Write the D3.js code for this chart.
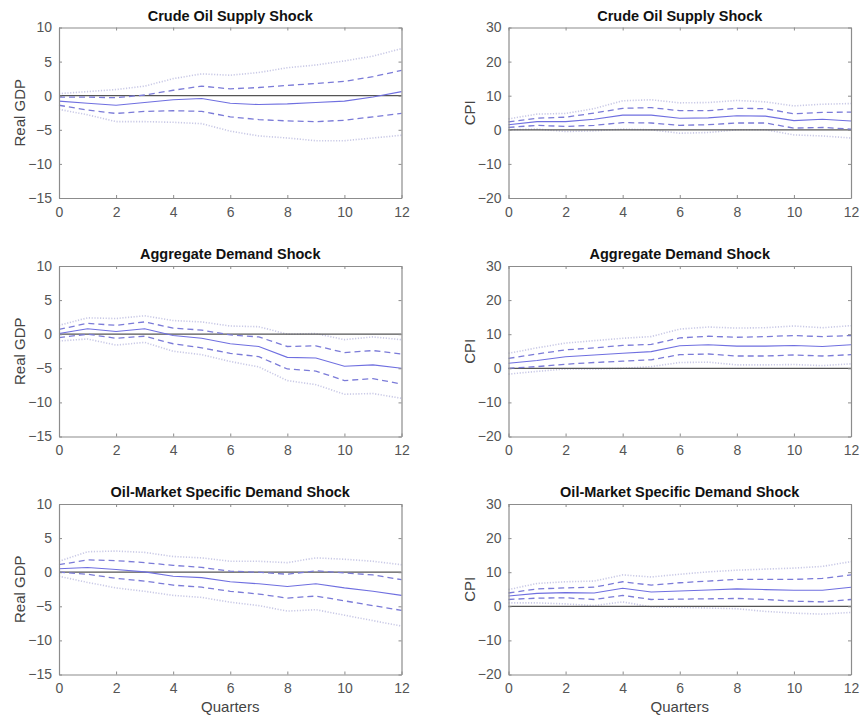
<!DOCTYPE html>
<meta charset="utf-8">
<body style="margin:0;background:#fff">
<script src="https://d3js.org/d3.v7.min.js"></script>
<div id="chart"></div>
<script>

// horizon (quarters)
var quarters = [0,1,2,3,4,5,6,7,8,9,10,11,12];

// shock titles and variable labels
var shock_titles = ["Crude Oil Supply Shock", "Aggregate Demand Shock", "Oil-Market Specific Demand Shock"];
var var_labels = ["Real GDP", "CPI"];

// axis ticks
var x_ticks = [0,2,4,6,8,10,12];
var gdp_ticks = [-15,-10,-5,0,5,10];
var cpi_ticks = [-20,-10,0,10,20,30];

// Crude oil supply shock -> Real GDP
var supply_gdp_med = [-0.8,-1.1,-1.4,-1.0,-0.6,-0.4,-1.1,-1.3,-1.2,-1.0,-0.8,-0.2,0.6];
var supply_gdp_hi1 = [-0.2,-0.2,-0.3,0.1,0.8,1.4,1.0,1.2,1.5,1.8,2.1,2.8,3.7];
var supply_gdp_lo1 = [-1.4,-2.1,-2.6,-2.3,-2.2,-2.3,-3.1,-3.5,-3.7,-3.8,-3.6,-3.1,-2.6];
var supply_gdp_hi2 = [0.3,0.6,0.9,1.4,2.5,3.2,3.0,3.4,4.1,4.5,5.1,5.8,6.9];
var supply_gdp_lo2 = [-2.0,-2.8,-3.8,-3.8,-3.9,-4.1,-5.2,-5.9,-6.2,-6.6,-6.6,-6.2,-5.8];

// Crude oil supply shock -> CPI
var supply_cpi_med = [1.5,2.4,2.4,3.1,4.3,4.3,3.4,3.5,4.1,4.0,2.7,3.1,2.6];
var supply_cpi_hi1 = [2.3,3.4,3.7,4.9,6.3,6.5,5.6,5.6,6.3,6.2,4.7,5.1,5.2];
var supply_cpi_lo1 = [0.7,1.3,1.0,1.3,2.1,2.0,1.3,1.5,2.0,2.0,0.5,0.7,0.2];
var supply_cpi_hi2 = [3.2,4.6,4.8,6.2,8.5,8.8,7.9,8.0,8.6,8.2,7.0,7.5,7.7];
var supply_cpi_lo2 = [0.0,0.2,-0.5,-0.3,0.2,0.0,-1.0,-0.8,0.0,0.0,-1.5,-1.8,-2.4];

// Aggregate demand shock -> Real GDP
var demand_gdp_med = [0.1,0.8,0.4,0.8,-0.2,-0.6,-1.4,-1.8,-3.4,-3.5,-4.7,-4.5,-5.0];
var demand_gdp_hi1 = [0.7,1.6,1.3,1.8,0.9,0.6,-0.1,-0.4,-1.8,-1.7,-2.7,-2.4,-2.9];
var demand_gdp_lo1 = [-0.5,0.0,-0.6,-0.3,-1.4,-2.0,-2.8,-3.3,-5.1,-5.4,-6.8,-6.5,-7.3];
var demand_gdp_hi2 = [1.3,2.4,2.3,2.7,2.0,1.8,1.2,1.1,0.0,0.1,-0.8,-0.4,-0.8];
var demand_gdp_lo2 = [-1.0,-0.7,-1.6,-1.2,-2.5,-3.0,-4.0,-4.8,-6.8,-7.4,-8.8,-8.7,-9.4];

// Aggregate demand shock -> CPI
var demand_cpi_med = [1.5,2.3,3.4,3.9,4.4,4.9,6.6,6.9,6.5,6.5,6.7,6.4,6.9];
var demand_cpi_hi1 = [2.9,4.2,5.4,6.0,6.7,7.0,8.9,9.4,9.1,9.3,9.6,9.3,9.6];
var demand_cpi_lo1 = [0.0,0.5,1.2,1.7,2.1,2.5,4.0,4.2,3.6,3.6,3.9,3.6,4.0];
var demand_cpi_hi2 = [4.4,6.0,7.4,8.1,8.8,9.3,11.5,12.1,11.8,11.9,12.4,11.9,12.5];
var demand_cpi_lo2 = [-1.7,-0.9,-0.2,-0.2,0.0,0.5,1.7,1.8,1.0,1.0,1.1,0.8,1.3];

// Oil-market specific demand shock -> Real GDP
var oil_gdp_med = [0.5,0.7,0.4,0.05,-0.6,-0.8,-1.4,-1.7,-2.1,-1.7,-2.3,-2.8,-3.4];
var oil_gdp_hi1 = [1.1,1.8,1.7,1.4,1.0,0.7,0.15,0.0,-0.3,0.2,-0.1,-0.4,-1.1];
var oil_gdp_lo1 = [0.0,-0.3,-0.9,-1.3,-1.9,-2.2,-2.8,-3.2,-3.8,-3.5,-4.2,-4.9,-5.6];
var oil_gdp_hi2 = [1.6,3.0,3.1,2.9,2.3,2.1,1.6,1.6,1.4,2.1,1.9,1.6,1.1];
var oil_gdp_lo2 = [-0.6,-1.5,-2.3,-2.8,-3.4,-3.7,-4.4,-4.9,-5.7,-5.5,-6.3,-7.1,-7.9];

// Oil-market specific demand shock -> CPI
var oil_cpi_med = [3.0,3.8,4.0,3.9,5.3,4.2,4.5,4.8,5.1,4.9,4.7,4.7,5.6];
var oil_cpi_hi1 = [3.9,5.1,5.4,5.6,7.2,6.2,6.9,7.4,7.9,7.9,7.9,8.2,9.2];
var oil_cpi_lo1 = [2.0,2.4,2.5,2.0,3.2,2.0,2.1,2.2,2.3,2.0,1.5,1.3,2.0];
var oil_cpi_hi2 = [4.9,6.7,7.2,7.4,9.2,8.6,9.4,10.1,10.6,10.9,11.2,11.7,13.1];
var oil_cpi_lo2 = [1.0,1.0,0.7,0.2,1.3,-0.2,-0.3,-0.5,-0.7,-1.5,-2.0,-2.3,-1.8];

// panel list, row by row
var panels = [
  {row:0, col:0, med:supply_gdp_med, hi1:supply_gdp_hi1, lo1:supply_gdp_lo1, hi2:supply_gdp_hi2, lo2:supply_gdp_lo2},
  {row:0, col:1, med:supply_cpi_med, hi1:supply_cpi_hi1, lo1:supply_cpi_lo1, hi2:supply_cpi_hi2, lo2:supply_cpi_lo2},
  {row:1, col:0, med:demand_gdp_med, hi1:demand_gdp_hi1, lo1:demand_gdp_lo1, hi2:demand_gdp_hi2, lo2:demand_gdp_lo2},
  {row:1, col:1, med:demand_cpi_med, hi1:demand_cpi_hi1, lo1:demand_cpi_lo1, hi2:demand_cpi_hi2, lo2:demand_cpi_lo2},
  {row:2, col:0, med:oil_gdp_med, hi1:oil_gdp_hi1, lo1:oil_gdp_lo1, hi2:oil_gdp_hi2, lo2:oil_gdp_lo2},
  {row:2, col:1, med:oil_cpi_med, hi1:oil_cpi_hi1, lo1:oil_cpi_lo1, hi2:oil_cpi_hi2, lo2:oil_cpi_lo2}
];

// layout
var width = 860, height = 716;
var col_left = [59, 508.5];
var row_top = [27.5, 266, 504];
var pw = 342.5, ph = 170.5;
var font = "'Liberation Sans', Arial, sans-serif";

var svg = d3.select("#chart")
  .append("svg")
    .attr("width", width)
    .attr("height", height)
    .style("font-family", font);

var x = d3.scaleLinear().domain([0, 12]).range([0, pw]);

panels.forEach(function(p) {
  var is_gdp = p.col == 0;
  var y = d3.scaleLinear()
            .domain(is_gdp ? [-15, 10] : [-20, 30])
            .range([ph, 0]);
  var yt = is_gdp ? gdp_ticks : cpi_ticks;

  var g = svg.append("g")
    .attr("transform", "translate(" + col_left[p.col] + "," + row_top[p.row] + ")");

  var line = d3.line()
    .x(function(d, i) { return x(quarters[i]); })
    .y(function(d) { return y(d); });

  // outer (dotted) bands
  [p.hi2, p.lo2].forEach(function(s) {
    g.append("path")
      .attr("d", line(s))
      .attr("fill", "none")
      .attr("stroke", "#c9c9e6")
      .attr("stroke-width", 1.6)
      .attr("stroke-dasharray", "1.2,1.6");
  });

  // zero line
  g.append("line")
    .attr("x1", 0).attr("x2", pw)
    .attr("y1", y(0)).attr("y2", y(0))
    .attr("stroke", "#555")
    .attr("stroke-width", 1.3);

  // inner (dashed) bands
  [p.hi1, p.lo1].forEach(function(s) {
    g.append("path")
      .attr("d", line(s))
      .attr("fill", "none")
      .attr("stroke", "#7b7bd8")
      .attr("stroke-width", 1.3)
      .attr("stroke-dasharray", "6,4");
  });

  // median response
  g.append("path")
    .attr("d", line(p.med))
    .attr("fill", "none")
    .attr("stroke", "#6f6fe0")
    .attr("stroke-width", 1.1);

  // axes: MATLAB style box with inner ticks
  var bottom = g.append("g")
    .attr("transform", "translate(0," + ph + ")")
    .call(d3.axisBottom(x).tickValues(x_ticks).tickSizeInner(-3).tickSizeOuter(0).tickPadding(9));
  var top = g.append("g")
    .call(d3.axisTop(x).tickValues(x_ticks).tickSizeInner(-3).tickSizeOuter(0).tickFormat(""));
  var left = g.append("g")
    .call(d3.axisLeft(y).tickValues(yt).tickSizeInner(-3).tickSizeOuter(0).tickPadding(7));
  var right = g.append("g")
    .attr("transform", "translate(" + pw + ",0)")
    .call(d3.axisRight(y).tickValues(yt).tickSizeInner(-3).tickSizeOuter(0).tickFormat(""));

  [bottom, top, left, right].forEach(function(a) {
    a.selectAll("path, line").attr("stroke", "#8c8c8c");
    a.select(".domain").attr("stroke-width", 1.2);
    a.selectAll("text")
      .attr("fill", "#555")
      .style("font-size", "14px")
      .style("font-family", font);
  });

  // title
  g.append("text")
    .attr("x", pw / 2)
    .attr("y", -7)
    .attr("text-anchor", "middle")
    .style("font-size", "14.5px")
    .style("font-weight", "bold")
    .attr("fill", "#111")
    .text(shock_titles[p.row]);

  // y label
  g.append("text")
    .attr("transform", "rotate(-90)")
    .attr("x", -ph / 2)
    .attr("y", -34)
    .attr("text-anchor", "middle")
    .style("font-size", "15px")
    .attr("fill", "#444")
    .text(var_labels[p.col]);

  // x label on bottom row
  if (p.row == 2) {
    g.append("text")
      .attr("x", pw / 2)
      .attr("y", ph + 37.5)
      .attr("text-anchor", "middle")
      .style("font-size", "15px")
      .attr("fill", "#444")
      .text("Quarters");
  }
});

</script>
</body>
